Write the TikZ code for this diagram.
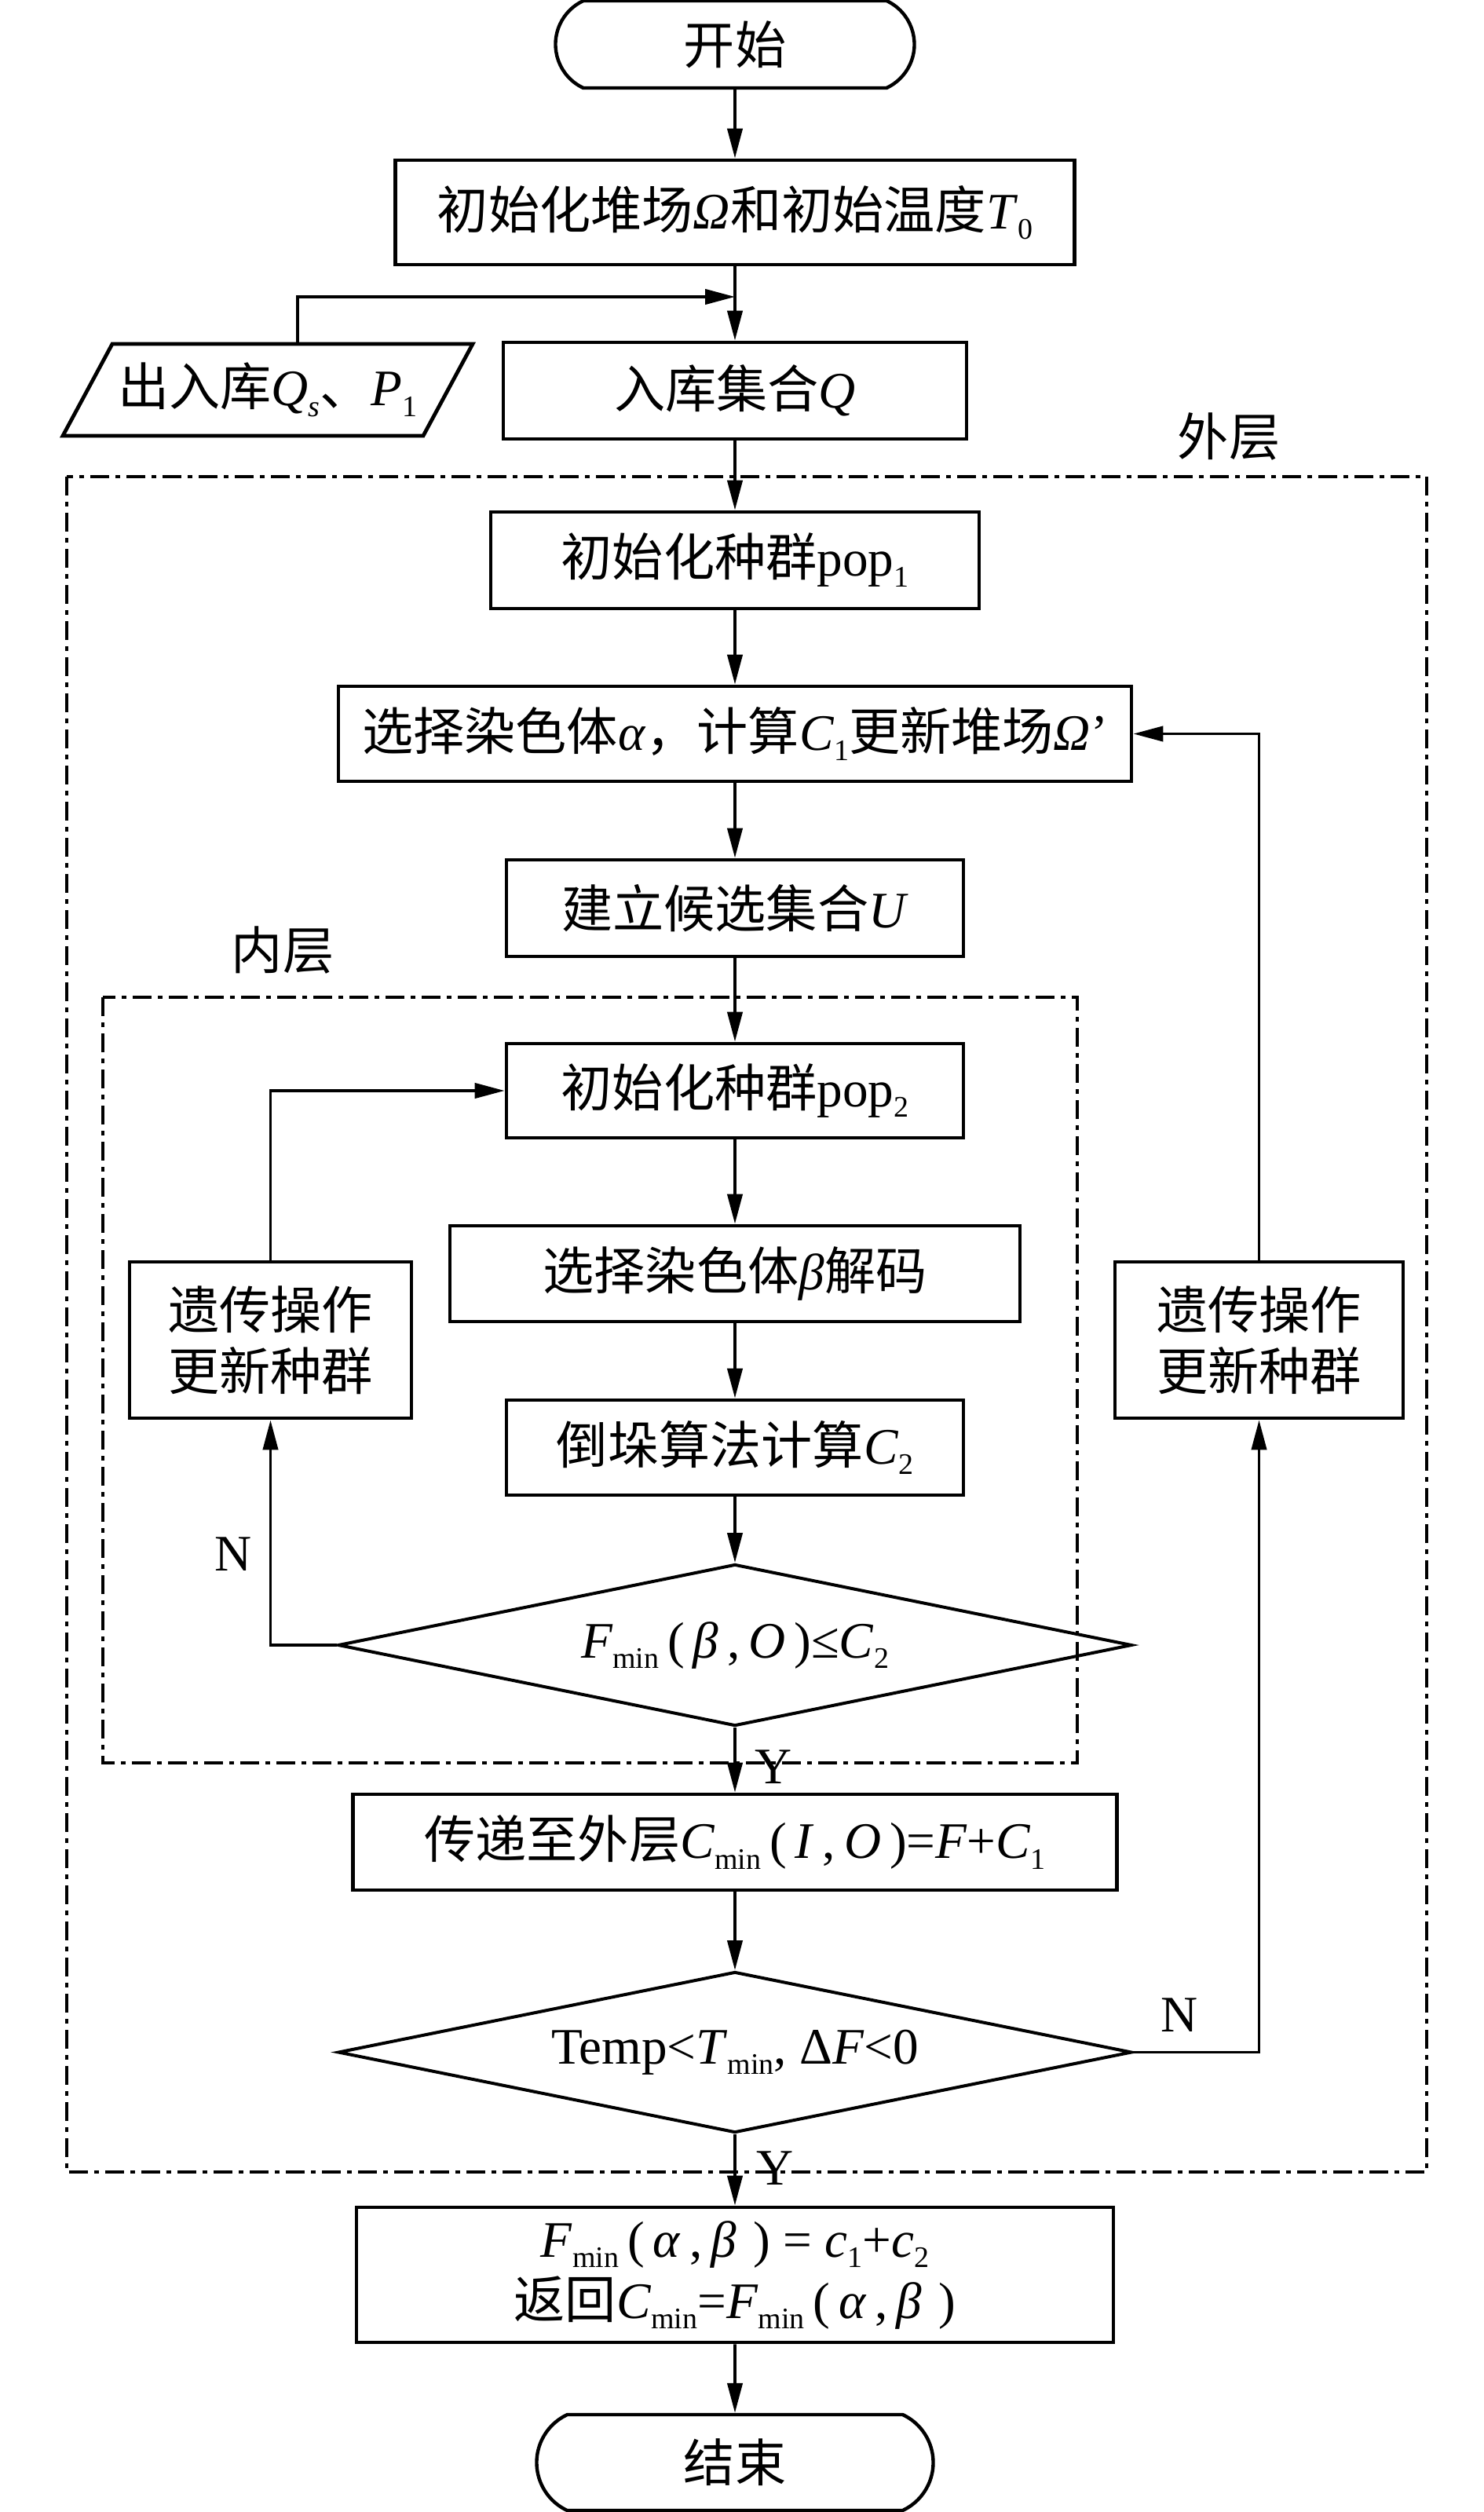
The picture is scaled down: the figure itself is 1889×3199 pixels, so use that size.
\documentclass[tikz,border=0pt]{standalone}
\usepackage{fontspec}
\setmainfont{Liberation Serif}
\newfontfamily\cjk{Noto Sans CJK SC}
\usetikzlibrary{arrows.meta,shapes.geometric,shapes.misc}
\newcommand{\zh}[1]{{\cjk #1}}
\newcommand{\iv}[1]{\textit{#1}}
\newcommand{\lsub}[1]{\raisebox{-0.45ex}{\fontsize{9.5pt}{9.5pt}\selectfont #1}}
\tikzset{
  boxnode/.style={draw, line width=1.2pt, rectangle, inner sep=0pt, align=center},
  termnode/.style={draw, line width=1.1pt, rounded rectangle, rounded rectangle arc length=130, inner sep=0pt},
  decnode/.style={draw, line width=1pt, diamond, aspect=4.9, inner sep=0pt},
  arr/.style={line width=0.9pt, -{Triangle[length=9.5pt,width=4.8pt]}},
  dd/.style={line width=0.8pt, dash pattern=on 6pt off 2pt on 1.5pt off 2pt},
  lbl/.style={inner sep=0pt}
}
\begin{document}
\begin{tikzpicture}[x=0.25pt,y=-0.25pt, every node/.style={font=\fontsize{16.3pt}{19.5pt}\selectfont}]
\useasboundingbox (0,0) rectangle (1889,3199);

% containers
\draw[dd] (85,607) rectangle (1817,2766);
\draw[dd] (131,1270) rectangle (1372,2245);
\node[lbl] (outerlbl) at (1565,556) {\zh{外层}};
\node[lbl] (innerlbl) at (360,1210) {\zh{内层}};

% nodes
\node[termnode, minimum width=114.25pt, minimum height=27.75pt] (start) at (936,56.5) {\zh{开始}};
\node[boxnode, minimum width=216.25pt, minimum height=33.25pt] (init) at (936,270.5) {\zh{初始化堆场}\iv{Ω}\zh{和初始温度}\iv{T}\lsub{0}};
\node[boxnode, minimum width=147.5pt, minimum height=30.75pt] (Q) at (936,497.5) {\zh{入库集合}\iv{Q}};
\draw[line width=1.2pt] (143,438) -- (602,438) -- (539,555) -- (80,555) -- cycle;
\node[lbl] (par) at (341,496.5) {\zh{出入库}\iv{Q}\lsub{\iv{s}}\zh{、}\iv{P}\lsub{1}};
\coordinate (partop) at (379,438);
\coordinate (merge) at (936,378);
\node[boxnode, minimum width=155.5pt, minimum height=30.75pt] (pop1) at (936,713.5) {\zh{初始化种群}pop\lsub{1}};
\node[boxnode, minimum width=252.5pt, minimum height=30.25pt] (alpha) at (936,934.5) {\zh{选择染色体}\iv{α}\zh{，计算}\iv{C}\lsub{1}\zh{更新堆场}\iv{Ω}'};
\node[boxnode, minimum width=145.5pt, minimum height=30.75pt] (U) at (936,1156.5) {\zh{建立候选集合}\iv{U}};
\node[boxnode, minimum width=145.5pt, minimum height=30pt] (pop2) at (936,1389) {\zh{初始化种群}pop\lsub{2}};
\node[boxnode, minimum width=181.5pt, minimum height=30.5pt] (dec) at (936,1622) {\zh{选择染色体}\iv{β}\zh{解码}};
\node[boxnode, minimum width=145.5pt, minimum height=30.25pt] (c2) at (936,1843.5) {\zh{倒垛算法计算}\iv{C}\lsub{2}};
\node[boxnode, minimum width=89.75pt, minimum height=49.75pt] (gaL) at (344.5,1706.5) {\zh{遗传操作}\\\zh{更新种群}};
\node[boxnode, minimum width=91.75pt, minimum height=49.75pt] (gaR) at (1603.5,1706.5) {\zh{遗传操作}\\\zh{更新种群}};
\node[decnode, minimum width=252.75pt, minimum height=51.5pt] (d1) at (936,2095) {\iv{F}\lsub{min}\,(\,\iv{β}\,,\,\iv{O}\,)≤\iv{C}\lsub{2}};
\node[boxnode, minimum width=243.25pt, minimum height=30.5pt] (pass) at (936,2346) {\zh{传递至外层}\iv{C}\lsub{min}\,(\,\iv{I}\,,\,\iv{O}\,)=\iv{F}+\iv{C}\lsub{1}};
\node[decnode, minimum width=252.75pt, minimum height=51.25pt] (d2) at (936,2613.5) {Temp<\iv{T}\lsub{min}, Δ\iv{F}<0};
\node[boxnode, minimum width=241pt, minimum height=43pt] (final) at (936,2897) {\iv{F}\lsub{min}\,(\,\iv{α}\,,\,\iv{β}\,\,) = \iv{c}\lsub{1}+\iv{c}\lsub{2}\\\zh{返回}\iv{C}\lsub{min}=\iv{F}\lsub{min}\,(\,\iv{α}\,,\,\iv{β}\,\,)};
\node[termnode, minimum width=126.25pt, minimum height=30.5pt] (end) at (936,3136) {\zh{结束}};

% labels
\node[lbl] (nL) at (297,1979) {N};
\node[lbl] (yI) at (985,2250) {Y};
\node[lbl] (nR) at (1502,2566) {N};
\node[lbl] (yO) at (987,2761) {Y};

% connectors
\draw[arr] (start) -- (init);
\draw[arr] (init) -- (Q);
\draw[arr] (partop) |- (merge);
\draw[arr] (Q) -- (pop1);
\draw[arr] (pop1) -- (alpha);
\draw[arr] (alpha) -- (U);
\draw[arr] (U) -- (pop2);
\draw[arr] (pop2) -- (dec);
\draw[arr] (dec) -- (c2);
\draw[arr] (c2) -- (d1);
\draw[arr] (d1) -- (pass);
\draw[arr] (pass) -- (d2);
\draw[arr] (d2) -- (final);
\draw[arr] (final) -- (end);
\draw[arr] (d1.west) -| (gaL.south);
\draw[arr] (gaL.north) |- (pop2.west);
\draw[arr] (d2.east) -| (gaR.south);
\draw[arr] (gaR.north) |- (alpha.east);
\end{tikzpicture}
\end{document}
